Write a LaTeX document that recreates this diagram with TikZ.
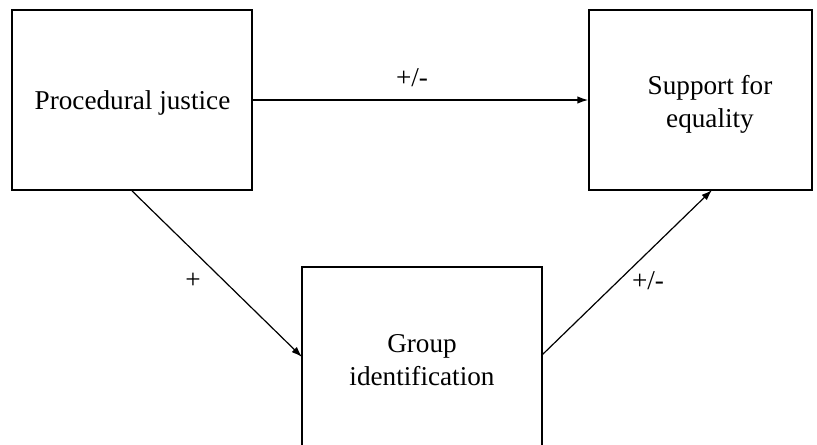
\documentclass[tikz,border=0pt]{standalone}
\usepackage{fontspec}
\setmainfont{Liberation Serif}
\usetikzlibrary{arrows.meta}
\begin{document}
\begin{tikzpicture}[
        x=0.75pt, y=-0.75pt,
        every node/.style={font=\fontsize{20.4}{24.75}\selectfont},
        var/.style={rectangle, draw, line width=1.3pt, inner sep=0pt},
        vartext/.style={align=center, inner sep=0pt},
        path/.style={draw, line width=0.9pt, -{Latex[length=8pt,width=5.5pt]}},
        sign/.style={inner sep=0pt}
    ]
    \clip (0,0) rectangle (817,444);
    % variables
    \node[var, minimum width=180pt, minimum height=135pt] (pj) at (132,100) {};
    \node[var, minimum width=167.25pt, minimum height=135pt] (se) at (700.5,100) {};
    \node[var, minimum width=180pt, minimum height=138pt] (gi) at (422,359) {};
    \node[vartext] (pj-text) at (132.5,103) {Procedural justice};
    \node[vartext] (se-text) at (710,104) {Support for\\equality};
    \node[vartext] (gi-text) at (422,360) {Group\\identification};
    % arrow ends
    \coordinate (gi-in) at (302,357);
    \coordinate (gi-out) at (542,355);
    \coordinate (se-in) at (712,190);
    % paths
    \draw[path] (pj.east) -- (se.west);
    \draw[path] (pj.south) -- (gi-in);
    \draw[path] (gi-out) -- (se-in);
    % signs
    \node[sign] (c) at (412,78) {+/-};
    \node[sign] (a) at (193,281) {+};
    \node[sign] (b) at (648,281) {+/-};
\end{tikzpicture}
\end{document}
